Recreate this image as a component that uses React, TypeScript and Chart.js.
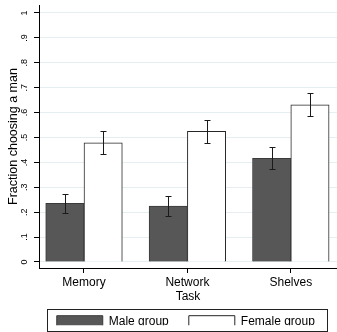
import React, { useEffect, useRef } from 'react';
import { Chart, registerables } from 'chart.js';

Chart.register(...registerables);

const categories = ['Memory', 'Network', 'Shelves'];
const seriesLabels = ['Male group', 'Female group'];
const maleValues = [0.236, 0.225, 0.416];
const maleLow = [0.196, 0.186, 0.372];
const maleHigh = [0.274, 0.264, 0.463];
const femaleValues = [0.479, 0.525, 0.631];
const femaleLow = [0.434, 0.479, 0.587];
const femaleHigh = [0.527, 0.571, 0.677];
const yTickLabels = ['0', '.1', '.2', '.3', '.4', '.5', '.6', '.7', '.8', '.9', '1'];
const xTitle = 'Task';
const yTitle = 'Fraction choosing a man';

const FONT = "'Liberation Sans', Arial, sans-serif";

const errorBarPlugin = {
  id: 'errorBars',
  afterDatasetsDraw(chart: any) {
    const ctx = chart.ctx;
    const yScale = chart.scales.y;
    chart.data.datasets.forEach((ds: any, di: number) => {
      const meta = chart.getDatasetMeta(di);
      meta.data.forEach((bar: any, j: number) => {
        const x = Math.round(bar.x) + 0.5;
        const top = Math.round(yScale.getPixelForValue(ds.errHigh[j])) + 0.5;
        const bot = Math.round(yScale.getPixelForValue(ds.errLow[j])) + 0.5;
        ctx.save();
        ctx.strokeStyle = '#1a1a1a';
        ctx.lineWidth = 1;
        ctx.beginPath();
        ctx.moveTo(x, top);
        ctx.lineTo(x, bot);
        ctx.moveTo(x - 3, top);
        ctx.lineTo(x + 3, top);
        ctx.moveTo(x - 3, bot);
        ctx.lineTo(x + 3, bot);
        ctx.stroke();
        ctx.restore();
      });
    });
  },
};

const legendPlacementPlugin = {
  id: 'legendPlacement',
  afterLayout(chart: any) {
    const lg = chart.legend;
    if (!lg) return;
    const h = lg.height;
    lg.top = 295.2;
    lg.bottom = lg.top + h;
    lg.left = 25.8;
    lg.right = 345.8;
    lg.width = lg.right - lg.left;
  },
  afterDraw(chart: any) {
    const ctx = chart.ctx;
    ctx.save();
    ctx.strokeStyle = '#222';
    ctx.lineWidth = 1;
    ctx.strokeRect(47.5, 309.5, 280, 22);
    ctx.restore();
  },
};

export default function App() {
  const canvasRef = useRef<HTMLCanvasElement | null>(null);

  useEffect(() => {
    document.body.style.margin = '0';
    const canvas = canvasRef.current;
    if (!canvas) return;

    const chart = new Chart(canvas, {
      type: 'bar',
      data: {
        datasets: [
          {
            label: seriesLabels[0],
            data: categories.map((_, i) => ({ x: i, y: maleValues[i] })),
            errLow: maleLow,
            errHigh: maleHigh,
            backgroundColor: '#575757',
            borderColor: '#3a3a3a',
            borderWidth: 1,
            barThickness: 38.3,
          } as any,
          {
            label: seriesLabels[1],
            data: categories.map((_, i) => ({ x: i, y: femaleValues[i] })),
            errLow: femaleLow,
            errHigh: femaleHigh,
            backgroundColor: '#ffffff',
            borderColor: '#262626',
            borderWidth: 1,
            barThickness: 38.3,
          } as any,
        ],
      },
      options: {
        responsive: false,
        animation: false,
        devicePixelRatio: 1,
        layout: { padding: { top: 5, left: 0, right: 0, bottom: 0 } },
        plugins: {
          tooltip: { enabled: false },
          legend: {
            position: 'bottom',
            maxHeight: 30,
            labels: {
              boxWidth: 46,
              boxHeight: 11,
              padding: 20,
              color: '#000',
              font: { family: FONT, size: 12, lineHeight: 1 },
            },
          },
        },
        scales: {
          x: {
            type: 'linear',
            min: -0.4352,
            max: 2.4468,
            offset: false,
            ticks: {
              stepSize: 1,
              includeBounds: false,
              autoSkip: false,
              maxRotation: 0,
              padding: 2,
              color: '#000',
              font: { family: FONT, size: 12 },
              callback: (v: any) => categories[Math.round(Number(v))] ?? '',
            },
            grid: { offset: false, drawOnChartArea: false, tickColor: '#000', tickLength: 5 },
            border: { color: '#000', width: 1 },
            title: {
              display: true,
              text: xTitle,
              color: '#000',
              font: { family: FONT, size: 12 },
              padding: { top: 0, bottom: -2 },
            },
            afterFit: (s: any) => {
              s.height = 34;
              s.paddingLeft = 0;
              s.paddingRight = 0;
            },
          },
          y: {
            type: 'linear',
            min: -0.0241,
            max: 1.0321,
            ticks: {
              stepSize: 0.1,
              includeBounds: false,
              autoSkip: false,
              minRotation: 90,
              maxRotation: 90,
              crossAlign: 'center',
              padding: 6,
              color: '#000',
              font: { family: FONT, size: 9 },
              callback: (v: any) => yTickLabels[Math.round(Number(v) * 10)] ?? '',
            },
            grid: { color: '#e5eef0', tickColor: '#000', tickLength: 5, lineWidth: 1 },
            border: { color: '#000', width: 1 },
            title: {
              display: true,
              text: yTitle,
              color: '#000',
              font: { family: FONT, size: 12.5 },
              padding: { top: 6, bottom: 0 },
            },
            afterFit: (s: any) => {
              s.width = 39;
              s.paddingTop = 0;
              s.paddingBottom = 0;
            },
          },
        },
      } as any,
      plugins: [errorBarPlugin, legendPlacementPlugin],
    });

    return () => {
      chart.destroy();
    };
  }, []);

  return (
    <div style={{ width: 337, height: 332, position: 'relative' }}>
      <canvas ref={canvasRef} width={337} height={332} style={{ display: 'block' }} />
    </div>
  );
}
